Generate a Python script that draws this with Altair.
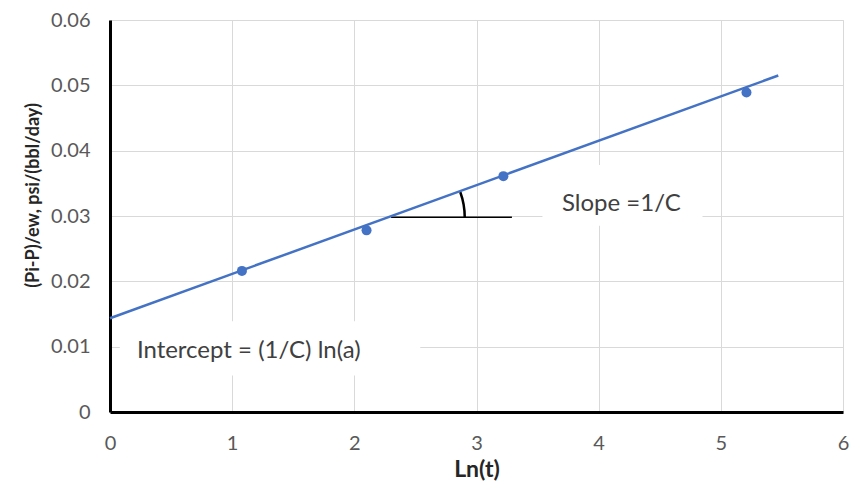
import altair as alt
import pandas as pd

# Data
pt_x = [1.08, 2.10, 3.22, 5.21]
pt_y = [0.0216, 0.0278, 0.0361, 0.0489]

fit_x = [0.0, 5.47]
fit_y = [0.01435, 0.0515]

# annotation: horizontal reference line and angle arc
ref_x = [2.30, 3.29]
ref_y = [0.0298, 0.0298]
arc_theta = [1.22, 1.5708]

# annotation boxes (white backgrounds) and labels
box_x = [3.54, 0.08]
box_x2 = [4.85, 2.54]
box_y = [0.0285, 0.0056]
box_y2 = [0.0378, 0.0139]
lab_x = [3.70, 0.22]
lab_y = [0.0318, 0.0094]
lab_text = ["Slope =1/C", "Intercept = (1/C) ln(a)"]

FONT = "Lato"

pts = pd.DataFrame({"x": pt_x, "y": pt_y})
fit = pd.DataFrame({"x": fit_x, "y": fit_y})
ref = pd.DataFrame({"x": ref_x, "y": ref_y})
arc = pd.DataFrame({"x": [ref_x[0]], "y": [ref_y[0]], "t1": [arc_theta[0]], "t2": [arc_theta[1]]})
boxes = pd.DataFrame({"x": box_x, "x2": box_x2, "y": box_y, "y2": box_y2})
labels = pd.DataFrame({"x": lab_x, "y": lab_y, "t": lab_text})

xs = alt.Scale(domain=[0, 6], nice=False, zero=False)
ys = alt.Scale(domain=[0, 0.06], nice=False)

xaxis = alt.Axis(
    title="Ln(t)", values=[0, 1, 2, 3, 4, 5, 6], format="d",
    grid=True, gridColor="#d9d9d9", gridWidth=1,
    domainColor="black", domainWidth=3, ticks=False, labelFlush=False,
    labelFont=FONT, labelFontSize=20, labelColor="#595959", labelPadding=21,
    titleFont=FONT, titleFontSize=23, titleFontWeight="bold", titleColor="#262626",
    titlePadding=5,
)
yaxis = alt.Axis(
    title="(Pi-P)/ew, psi/(bbl/day)",
    values=[0, 0.01, 0.02, 0.03, 0.04, 0.05, 0.06],
    labelExpr="datum.value == 0 ? '0' : format(datum.value, '.2f')",
    grid=True, gridColor="#d9d9d9", gridWidth=1,
    domainColor="black", domainWidth=3, ticks=False, labelFlush=False,
    labelFont=FONT, labelFontSize=20, labelColor="#595959", labelPadding=20,
    titleFont=FONT, titleFontSize=18, titleFontWeight="bold", titleColor="#262626",
    titleX=-77, titleY=175, titleBaseline="middle", titleAlign="center", titleAngle=270,
)

base_box = alt.Chart(boxes).mark_rect(color="white").encode(
    x=alt.X("x:Q", scale=xs, axis=xaxis),
    x2="x2:Q",
    y=alt.Y("y:Q", scale=ys, axis=yaxis),
    y2="y2:Q",
)

ref_line = alt.Chart(ref).mark_line(color="black", strokeWidth=1.5).encode(
    x=alt.X("x:Q", scale=xs), y=alt.Y("y:Q", scale=ys)
)

arc_mark = alt.Chart(arc).mark_arc(color="black", radius=75, radius2=72.5).encode(
    x=alt.X("x:Q", scale=xs), y=alt.Y("y:Q", scale=ys),
    theta=alt.Theta("t1:Q", scale=None), theta2="t2:Q",
)

fit_line = alt.Chart(fit).mark_line(color="#4472c4", strokeWidth=2.5).encode(
    x=alt.X("x:Q", scale=xs), y=alt.Y("y:Q", scale=ys)
)

points = alt.Chart(pts).mark_circle(color="#4472c4", opacity=1, size=100).encode(
    x=alt.X("x:Q", scale=xs), y=alt.Y("y:Q", scale=ys)
)

text = alt.Chart(labels).mark_text(
    align="left", baseline="middle", font=FONT, fontSize=24, color="#404040"
).encode(
    x=alt.X("x:Q", scale=xs), y=alt.Y("y:Q", scale=ys), text="t:N"
)

chart = alt.layer(base_box, ref_line, arc_mark, fit_line, points, text).properties(
    width=733, height=392,
    autosize=alt.AutoSizeParams(type="none"),
    padding={"left": 102, "top": 12, "right": 8, "bottom": 70},
).configure_view(stroke=None).configure(background="white")

chart.save("out.html", embed_options={"renderer": "svg", "actions": False})
